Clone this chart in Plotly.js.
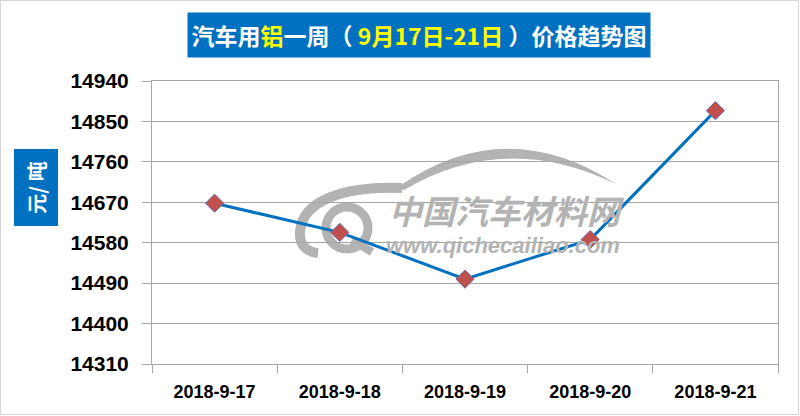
<!DOCTYPE html>
<html>
<head>
<meta charset="utf-8">
<script src="https://cdn.plot.ly/plotly-3.0.1.min.js"></script>
<style>
  html, body { margin: 0; padding: 0; background: #fff; }
  #wrap { position: relative; width: 800px; height: 416px; }
  #chart { width: 800px; height: 416px; }
  #frame { position: absolute; left: 0; top: 0; width: 797px; height: 413px; border: 1px solid #d4d4d4; pointer-events: none; }
</style>
</head>
<body>
<div id="wrap"><div id="chart"></div><div id="frame"></div></div>
<script>
// ---- data ----
const dates = ['2018-9-17', '2018-9-18', '2018-9-19', '2018-9-20', '2018-9-21'];
const prices = [14668, 14603, 14499, 14587, 14874];
const yTicks = [14310, 14400, 14490, 14580, 14670, 14760, 14850, 14940];

// ---- layout geometry helpers (plot area in pixels) ----
const L = 152, R = 22, T = 81, B = 52, W = 800, H = 416;
const PW = W - L - R, PH = H - T - B;
const px = x => (x - L) / PW;
const py = y => (H - B - y) / PH;
function path(cmds) {
  return cmds.map(c => {
    const k = c[0], v = c.slice(1);
    let out = k;
    for (let i = 0; i < v.length; i += 2) out += ' ' + px(v[i]).toFixed(4) + ',' + py(v[i + 1]).toFixed(4);
    return out;
  }).join(' ');
}

const wm = '#b3b3b3';
const shapes = [
  // roof crescent
  { type: 'path', xref: 'paper', yref: 'paper', layer: 'below', line: { width: 0 }, fillcolor: wm,
    path: path([['M', 398, 187], ['Q', 505, 112, 616, 184], ['Q', 505, 130, 404, 190]]) + ' Z' },
  // hood + C arc
  { type: 'path', xref: 'paper', yref: 'paper', layer: 'below', line: { color: wm, width: 10 },
    path: path([['M', 402, 188], ['C', 345, 186, 302, 200, 300, 232], ['C', 299, 246, 308, 252, 318, 253]]) },
  // Q ring
  { type: 'circle', xref: 'paper', yref: 'paper', layer: 'below', line: { color: wm, width: 9 },
    x0: px(326), x1: px(368), y0: py(249), y1: py(207) },
  // Q tail
  { type: 'path', xref: 'paper', yref: 'paper', layer: 'below', line: { color: wm, width: 8 },
    path: path([['M', 352, 240], ['L', 372, 252]]) }
];

const trace = {
  x: dates,
  y: prices,
  type: 'scatter',
  mode: 'lines+markers',
  line: { color: '#0070C0', width: 3 },
  marker: { symbol: 'diamond', size: 14, color: '#C0504D', line: { color: '#6A6FA8', width: 1 } },
  cliponaxis: false,
  hoverinfo: 'x+y'
};

const layout = {
  width: W, height: H,
  margin: { l: L, r: R, t: T, b: B, pad: 0 },
  paper_bgcolor: '#ffffff',
  plot_bgcolor: 'rgba(0,0,0,0)',
  showlegend: false,
  font: { family: 'Liberation Sans, Arial, sans-serif', color: '#000' },
  xaxis: {
    type: 'category',
    range: [-0.5, dates.length - 0.5],
    showline: true, mirror: true, linecolor: '#a6a6a6', linewidth: 1,
    ticks: 'outside', tickson: 'boundaries', ticklen: 8, tickcolor: '#a6a6a6',
    showgrid: false, zeroline: false,
    tickfont: { family: 'Liberation Sans, Arial, sans-serif', size: 18, weight: 'bold', color: '#000' },
    ticklabelstandoff: 11,
    fixedrange: true
  },
  yaxis: {
    range: [yTicks[0], yTicks[yTicks.length - 1]],
    tickvals: yTicks,
    ticktext: yTicks.map(String),
    showline: true, mirror: true, linecolor: '#a6a6a6', linewidth: 1,
    ticks: 'outside', ticklen: 9, tickcolor: '#a6a6a6',
    showgrid: true, gridcolor: '#a6a6a6', gridwidth: 1,
    zeroline: false,
    tickfont: { family: 'Liberation Sans, Arial, sans-serif', size: 21, weight: 'bold', color: '#000' },
    ticklabelstandoff: 9,
    fixedrange: true
  },
  shapes: shapes,
  annotations: [
    { xref: 'paper', yref: 'paper', x: px(419), y: py(35), xanchor: 'center', yanchor: 'middle',
      width: 462, height: 44, bgcolor: '#0070C0', borderpad: 0, showarrow: false,
      font: { family: 'Noto Sans CJK SC, sans-serif', size: 23, weight: 'bold', color: '#ffffff' },
      text: '汽车用<span style="color:#FFFF00">铝</span>一周（ <span style="color:#FFFF00">9月17日-21日</span> ）价格趋势图' },
    { xref: 'paper', yref: 'paper', x: px(35.5), y: py(188), xanchor: 'center', yanchor: 'middle',
      width: 76, height: 43, bgcolor: '#0070C0', borderpad: 0, showarrow: false, textangle: -90,
      font: { family: 'Noto Sans CJK SC, sans-serif', size: 20, weight: 'bold', color: '#ffffff' },
      text: '元/ 吨' },
    { xref: 'paper', yref: 'paper', x: px(507), y: py(210), xanchor: 'center', yanchor: 'middle',
      showarrow: false,
      font: { family: 'Noto Sans CJK SC, sans-serif', size: 33, weight: 'bold', color: wm, style: 'italic' },
      text: '中国汽车材料网' },
    { xref: 'paper', yref: 'paper', x: px(503), y: py(245), xanchor: 'center', yanchor: 'middle',
      showarrow: false,
      font: { family: 'Liberation Sans, Arial, sans-serif', size: 22, weight: 'bold', color: wm, style: 'italic' },
      text: 'www.qichecailiao.com' }
  ]
};

Plotly.newPlot('chart', [trace], layout, { displayModeBar: false, staticPlot: true });
</script>
</body>
</html>
